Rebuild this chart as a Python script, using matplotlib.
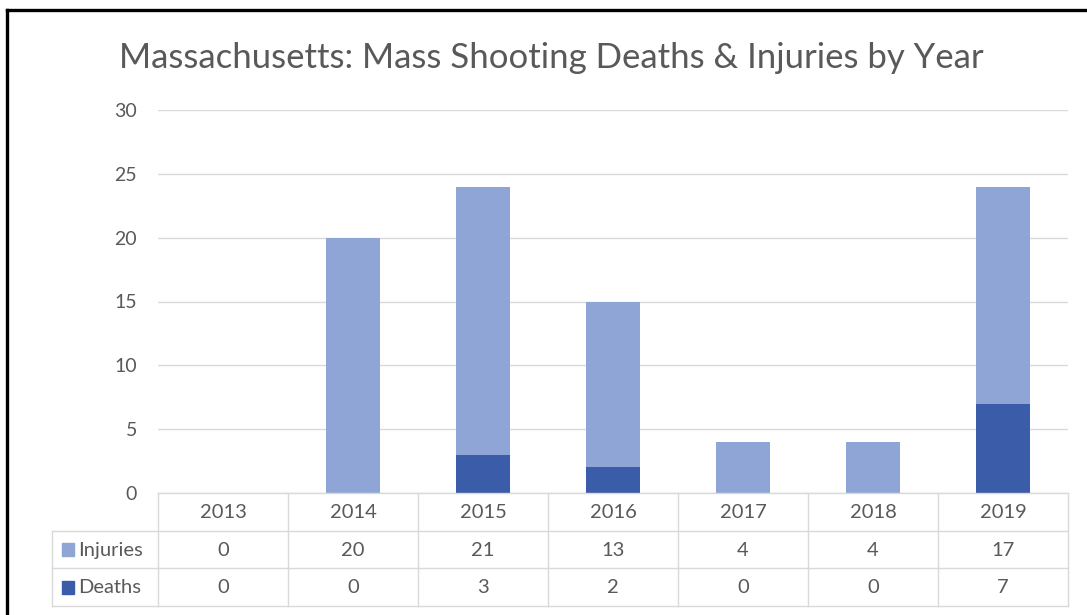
import matplotlib.pyplot as plt
from matplotlib.lines import Line2D
from matplotlib.patches import Rectangle

years = ['2013', '2014', '2015', '2016', '2017', '2018', '2019']
injuries = [0, 20, 21, 13, 4, 4, 17]
deaths = [0, 0, 3, 2, 0, 0, 7]

light = '#8EA5D6'
dark = '#3B5CA8'
grid = '#D9D9D9'
txt = '#595959'

plt.rcParams['font.family'] = ['Lato', 'DejaVu Sans']

W, H = 1087, 615
fig = plt.figure(figsize=(W / 100, H / 100), dpi=100)

def box(x0, y0, x1, y1):
    # pixel box (top-left origin) -> figure fraction rect
    return [x0 / W, 1 - y1 / H, (x1 - x0) / W, (y1 - y0) / H]

ax = fig.add_axes(box(158, 110, 1068, 493))
x = range(len(years))
ax.bar(x, deaths, width=0.42, color=dark, zorder=3)
ax.bar(x, injuries, width=0.42, bottom=deaths, color=light, zorder=3)
ax.set_xlim(-0.5, len(years) - 0.5)
ax.set_ylim(0, 30)
ax.set_yticks(range(0, 31, 5))
ax.set_xticks([])
ax.yaxis.grid(True, color=grid, lw=1)
ax.tick_params(axis='y', length=0, pad=15, labelsize=14, labelcolor=txt)
for s in ax.spines.values():
    s.set_visible(False)

fig.text(551 / W, 1 - 58 / H, 'Massachusetts: Mass Shooting Deaths & Injuries by Year',
         ha='center', va='center', fontsize=25, color=txt)

# data table under the plot
tb = fig.add_axes(box(158, 493, 1068, 606))
tb.set_xlim(-0.5, len(years) - 0.5)
tb.set_ylim(3, 0)
tb.axis('off')
lab_x = -0.5 - 106 / 130
kw = dict(color=grid, lw=1, clip_on=False)
tb.plot([-0.5, len(years) - 0.5], [0, 0], **kw)
tb.plot([lab_x, len(years) - 0.5], [1, 1], **kw)
tb.plot([lab_x, len(years) - 0.5], [2, 2], **kw)
tb.plot([lab_x, len(years) - 0.5], [3, 3], **kw)
tb.plot([lab_x, lab_x], [1, 3], **kw)
for i in range(len(years) + 1):
    tb.plot([i - 0.5, i - 0.5], [0, 3], **kw)

fs = 14.5
for i, y in enumerate(years):
    tb.text(i, 0.52, y, ha='center', va='center', fontsize=fs, color=txt)
    tb.text(i, 1.52, str(injuries[i]), ha='center', va='center', fontsize=fs, color=txt)
    tb.text(i, 2.52, str(deaths[i]), ha='center', va='center', fontsize=fs, color=txt)

for row, name, c in [(1.5, 'Injuries', light), (2.5, 'Deaths', dark)]:
    tb.add_patch(Rectangle((lab_x + 0.08, row - 0.16), 0.09, 0.34, color=c, clip_on=False,
                           transform=tb.transData))
    tb.text(lab_x + 0.2, row + 0.02, name, ha='left', va='center', fontsize=fs, color=txt)

# black frame on left and top
fig.add_artist(Line2D([7 / W, 7 / W], [0, 1 - 10 / H], color='black', lw=2.4,
                      transform=fig.transFigure))
fig.add_artist(Line2D([7 / W, 1], [1 - 10 / H, 1 - 10 / H], color='black', lw=2.4,
                      transform=fig.transFigure))

fig.savefig('out.png', dpi=100, facecolor='white')
